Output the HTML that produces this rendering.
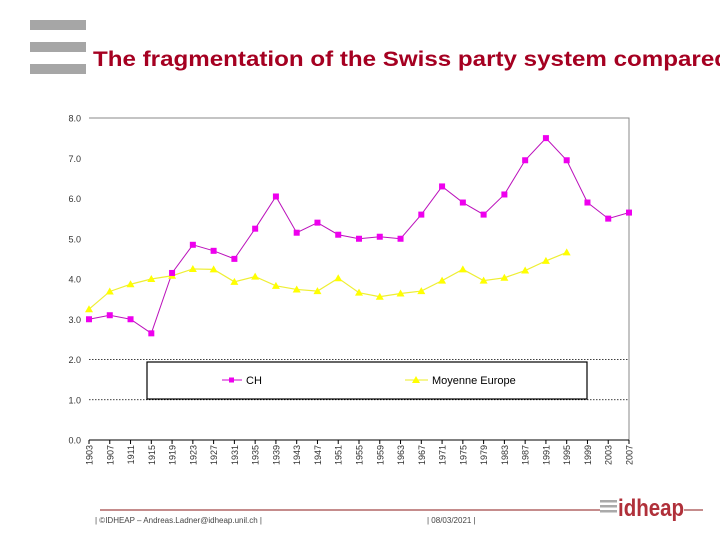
<!DOCTYPE html>
<html><head><meta charset="utf-8"><style>
body{margin:0;background:#fff;width:720px;height:540px;overflow:hidden;font-family:"Liberation Sans",sans-serif}
</style></head><body>
<svg id="s" width="720" height="540" xmlns="http://www.w3.org/2000/svg">
<g>
<rect x="30" y="20" width="56" height="10" fill="#a6a6a6"/>
<rect x="30" y="42" width="56" height="10" fill="#a6a6a6"/>
<rect x="30" y="64" width="56" height="10" fill="#a6a6a6"/>
</g>
<text x="93" y="66" font-size="21" font-weight="bold" fill="#a50021" textLength="636" lengthAdjust="spacingAndGlyphs">The fragmentation of the Swiss party system compared</text>
<polyline points="89,118 629,118 629,440" fill="none" stroke="#888"/>
<g id="grid"></g>
<g id="axes"></g>
<g id="series"></g>
<g>
<rect x="147" y="362" width="440" height="37" fill="#fff" stroke="#000" stroke-width="1.2"/>
<g>
<line x1="222" y1="380" x2="242" y2="380" stroke="#cc00cc"/><rect x="229" y="377.5" width="5" height="5" fill="#ee00ee"/>
<text x="246" y="384" font-size="11">CH</text></g>
<g>
<line x1="405" y1="380" x2="428" y2="380" stroke="#eeee22"/><polygon points="416,376 420,383 412,383" fill="#ffff00"/>
<text x="432" y="384" font-size="11">Moyenne Europe</text></g>
</g>
<line x1="100" y1="510" x2="600" y2="510" stroke="#8b1a1a"/>
<line x1="684" y1="510" x2="703" y2="510" stroke="#8b1a1a"/>
<text x="95" y="523" font-size="8" fill="#444">| ©IDHEAP – Andreas.Ladner@idheap.unil.ch |</text>
<text x="427" y="523" font-size="8" fill="#444">| 08/03/2021 |</text>
<g>
<rect x="600" y="500" width="17" height="2.5" fill="#aaa"/><rect x="600" y="505" width="17" height="2.5" fill="#aaa"/><rect x="600" y="510" width="17" height="2.5" fill="#aaa"/>
<text x="618" y="516" font-size="24" font-weight="bold" fill="#b0303a" textLength="66" lengthAdjust="spacingAndGlyphs">idheap</text>
</g>
</svg>
<script>
const years=[1903,1907,1911,1915,1919,1923,1927,1931,1935,1939,1943,1947,1951,1955,1959,1963,1967,1971,1975,1979,1983,1987,1991,1995,1999,2003,2007];
const chValues=[3.0,3.1,3.0,2.65,4.15,4.85,4.7,4.5,5.25,6.05,5.15,5.4,5.1,5.0,5.05,5.0,5.6,6.3,5.9,5.6,6.1,6.95,7.5,6.95,5.9,5.5,5.65];
const europeValues=[3.25,3.69,3.87,4.0,4.08,4.25,4.24,3.93,4.06,3.83,3.74,3.70,4.02,3.66,3.56,3.64,3.70,3.96,4.24,3.96,4.03,4.21,4.45,4.66];
const yTicks=[0,1,2,3,4,5,6,7,8];
const yTickLabels=["0.0","1.0","2.0","3.0","4.0","5.0","6.0","7.0","8.0"];
const gridValues=[1,2];
const NS="http://www.w3.org/2000/svg";
const X0=89,X1=629,Y0=440,Y1=118;
const xs=i=>X0+(X1-X0)*i/(years.length-1);
const ys=v=>Y0-(Y0-Y1)*v/8;
function mk(t,a,p){const e=document.createElementNS(NS,t);for(const k in a)e.setAttribute(k,a[k]);p.appendChild(e);return e;}
const grid=document.getElementById('grid'),axes=document.getElementById('axes'),ser=document.getElementById('series');
gridValues.forEach(v=>{
 const l=mk('line',{x1:X0,x2:X1,y1:ys(v),y2:ys(v),stroke:'#000','stroke-dasharray':'1.5,1.5','stroke-width':0.8},grid);
 
 
});
yTicks.forEach((v,i)=>{
 const t=mk('text',{x:X0-8,y:ys(v)+3.5,'font-size':9,'text-anchor':'end',fill:'#333'},axes);t.textContent=yTickLabels[i];
 
 
});
const ax=mk('line',{x1:X0,x2:X1,y1:Y0,y2:Y0,stroke:'#000'},axes);


years.forEach((y,i)=>{
 mk('line',{x1:xs(i),x2:xs(i),y1:Y0,y2:Y0+4,stroke:'#000'},axes);
 const t=mk('text',{x:0,y:0,'font-size':9,'text-anchor':'end',fill:'#333',transform:`translate(${xs(i)+3.5},${Y0+5}) rotate(-90)`},axes);
 t.textContent=y;
 
 
});
const chPts=chValues.map((v,i)=>xs(i)+','+ys(v)).join(' ');
const chLine=mk('polyline',{points:chPts,fill:'none',stroke:'#bb11bb','stroke-width':1},ser);


const euPts=europeValues.map((v,i)=>xs(i)+','+ys(v)).join(' ');
const euLine=mk('polyline',{points:euPts,fill:'none',stroke:'#eeee33','stroke-width':1.2},ser);


europeValues.forEach((v,i)=>{const x=xs(i),y=ys(v);
 const p=mk('polygon',{points:`${x},${y-4} ${x+4},${y+3} ${x-4},${y+3}`,fill:'#ffff00'},ser);
 
 });
chValues.forEach((v,i)=>{
 const r=mk('rect',{x:xs(i)-3,y:ys(v)-3,width:6,height:6,fill:'#ee00ee'},ser);
 
 });
</script>
</body></html>
